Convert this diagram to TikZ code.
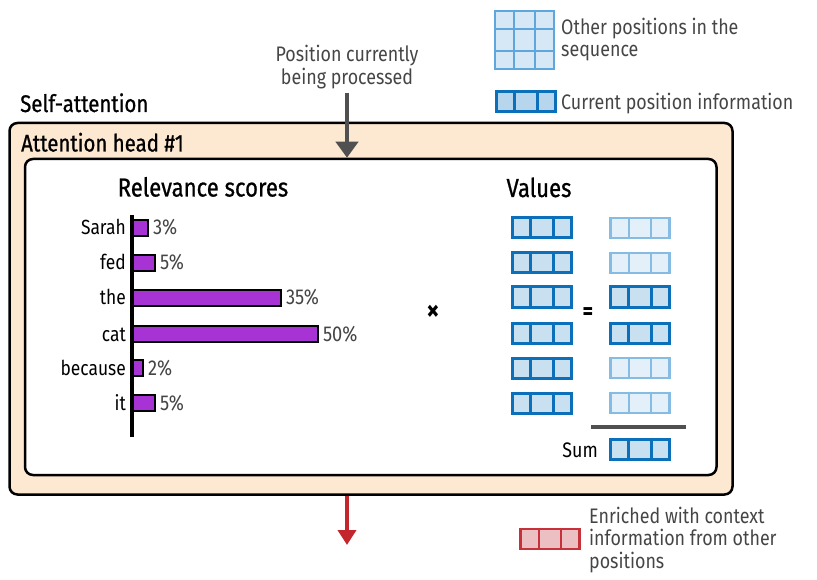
\documentclass[tikz,border=0pt]{standalone}
\usepackage{fontspec}
\setmainfont{Fira Sans}[FakeStretch=0.85]
\newfontfamily\titlefont{Fira Sans}[FakeStretch=0.85, FakeBold=0.8]
\usetikzlibrary{arrows.meta}
\definecolor{peach}{HTML}{FDE8D1}
\definecolor{darkb}{HTML}{0B6FBA}
\definecolor{darkbfill}{HTML}{C9E0F1}
\definecolor{lightb}{HTML}{86BCE3}
\definecolor{lightbfill}{HTML}{E4F0F9}
\definecolor{gridb}{HTML}{5EA6DC}
\definecolor{gridfill}{HTML}{D6E8F5}
\definecolor{curfill}{HTML}{B7D5ED}
\definecolor{barpurple}{HTML}{A733D4}
\definecolor{redb}{HTML}{C6323A}
\definecolor{redfill}{HTML}{ECBFC2}
\definecolor{arrred}{HTML}{C4262E}
\definecolor{txtgray}{HTML}{454545}
\definecolor{arrgray}{HTML}{505050}
\newcommand\cellrow[6][3]{% [line width], name, left x, center y, border colour, fill colour
  \node[rowbox, line width=#1, draw=#5, fill=#6, anchor=west] (#2) at (#3,#4) {};
  \draw[#5, line width=#1-0.3] ([xshift=19.67pt]#2.north west) -- ([xshift=19.67pt]#2.south west);
  \draw[#5, line width=#1-0.3] ([xshift=-19.67pt]#2.north east) -- ([xshift=-19.67pt]#2.south east);
}
\tikzset{
  outerbox/.style={draw=black, line width=2.5, fill=peach, rounded corners=8pt, inner sep=0},
  innerbox/.style={draw=black, line width=2.5, fill=white, rounded corners=8pt, inner sep=0},
  rowbox/.style={minimum width=59pt, minimum height=20pt, inner sep=0},
  bar/.style={draw=black, line width=1.8, fill=barpurple, minimum height=16pt, inner sep=0, anchor=west},
  title/.style={font=\titlefont\fontsize{24}{26}\selectfont, text=black, inner sep=0},
  bigtitle/.style={font=\titlefont\fontsize{26}{28}\selectfont, text=black, inner sep=0},
  note/.style={font=\fontsize{21}{22.5}\selectfont, text=txtgray, inner sep=0, align=left},
  word/.style={font=\fontsize{20.5}{22}\selectfont, text=black, inner sep=0, anchor=base east},
  pct/.style={font=\fontsize{21.5}{22}\selectfont, text=txtgray, inner sep=0, anchor=base west},
}
\begin{document}
\begin{tikzpicture}[x=1pt,y=-1pt]
\useasboundingbox (0,0) rectangle (817,580);
% legend top right
\node[draw=gridb, fill=gridfill, line width=2, minimum width=59pt, minimum height=58pt, inner sep=0] (grid) at (524.5,40) {};
\draw[gridb, line width=2] ([xshift=19.67pt]grid.north west) -- ([xshift=19.67pt]grid.south west);
\draw[gridb, line width=2] ([xshift=-19.67pt]grid.north east) -- ([xshift=-19.67pt]grid.south east);
\draw[gridb, line width=2] ([yshift=-19.33pt]grid.north west) -- ([yshift=-19.33pt]grid.north east);
\draw[gridb, line width=2] ([yshift=19.33pt]grid.south west) -- ([yshift=19.33pt]grid.south east);
\node[note, anchor=base west] (othertxt) at (561,57) {Other positions in the\\sequence};
\cellrow{cur}{495}{101.5}{darkb}{curfill}
\node[note, anchor=base west] (curtxt) at (561,110) {Current position information};
% annotation
\node[note, align=center, anchor=base] (proc) at (347,84.5) {Position currently\\being processed};
\node[title, anchor=base west] (selfatt) at (20,112) {Self-attention};
% boxes
\node[outerbox, minimum width=723pt, minimum height=371.5pt] (outer) at (371,308.75) {};
\node[title, anchor=base west] (head) at (21,151.5) {Attention head \#1};
\node[innerbox, minimum width=691.5pt, minimum height=316pt] (inner) at (370.75,317) {};
\coordinate (ptop) at (347,93);
\draw[arrgray, line width=4, -{Triangle[length=16pt,width=22pt]}] (ptop) -- (ptop |- inner.north);
% titles
\node[bigtitle, anchor=base] (rel) at (203,196.5) {Relevance scores};
\node[bigtitle, anchor=base] (val) at (539,197) {Values};
% bars
\node[bar, minimum width=15pt] (b1) at (132,228) {};
\node[bar, minimum width=22pt] (b2) at (132,263) {};
\node[bar, minimum width=148pt] (b3) at (132,298) {};
\node[bar, minimum width=185pt] (b4) at (132,334) {};
\node[bar, minimum width=10pt] (b5) at (132,368) {};
\node[bar, minimum width=22pt] (b6) at (132,403) {};
\draw[black, line width=4] (132,215) coordinate (axtop) -- (132,437) coordinate (axbot);
\foreach \n/\w/\p in {1/Sarah/3\%,2/fed/5\%,3/the/35\%,4/cat/50\%,5/because/2\%,6/it/5\%}{
  \node[word] (w\n) at ([xshift=-6pt,yshift=-7pt]b\n.west) {\w};
  \node[pct] (p\n) at ([xshift=4pt,yshift=-7pt]b\n.east) {\p};
}
% operators
\node[font=\fontsize{30}{30}\selectfont\bfseries, inner sep=0] (times) at (433,313) {×};
\node[font=\fontsize{24}{24}\selectfont\bfseries, inner sep=0] (eq) at (588,314) {=};
% values
\cellrow{v1}{511}{228}{darkb}{darkbfill}
\cellrow{v2}{511}{263}{darkb}{darkbfill}
\cellrow{v3}{511}{297}{darkb}{darkbfill}
\cellrow{v4}{511}{333}{darkb}{darkbfill}
\cellrow{v5}{511}{368}{darkb}{darkbfill}
\cellrow{v6}{511}{403}{darkb}{darkbfill}
\cellrow[2.6]{r1}{609}{228}{lightb}{lightbfill}
\cellrow[2.6]{r2}{609}{263}{lightb}{lightbfill}
\cellrow{r3}{609}{297}{darkb}{darkbfill}
\cellrow{r4}{609}{333}{darkb}{darkbfill}
\cellrow[2.6]{r5}{609}{368}{lightb}{lightbfill}
\cellrow[2.6]{r6}{609}{403}{lightb}{lightbfill}
\draw[arrgray, line width=4] (591,427) coordinate (sl) -- (686,427) coordinate (sr);
\cellrow{sum}{609}{449.5}{darkb}{darkbfill}
\node[font=\fontsize{21}{22}\selectfont, inner sep=0, anchor=base east] (sumtxt) at (598,457) {Sum};
% output arrow
\coordinate (otip) at (347,545);
\draw[arrred, line width=4, -{Triangle[length=15pt,width=18pt]}] (otip |- outer.south) -- (otip);
% red legend
\cellrow[2.6]{red}{519}{539}{redb}{redfill}
\node[note, anchor=base west] (enr) at (589,568) {Enriched with context\\information from other\\positions};
\end{tikzpicture}
\end{document}
